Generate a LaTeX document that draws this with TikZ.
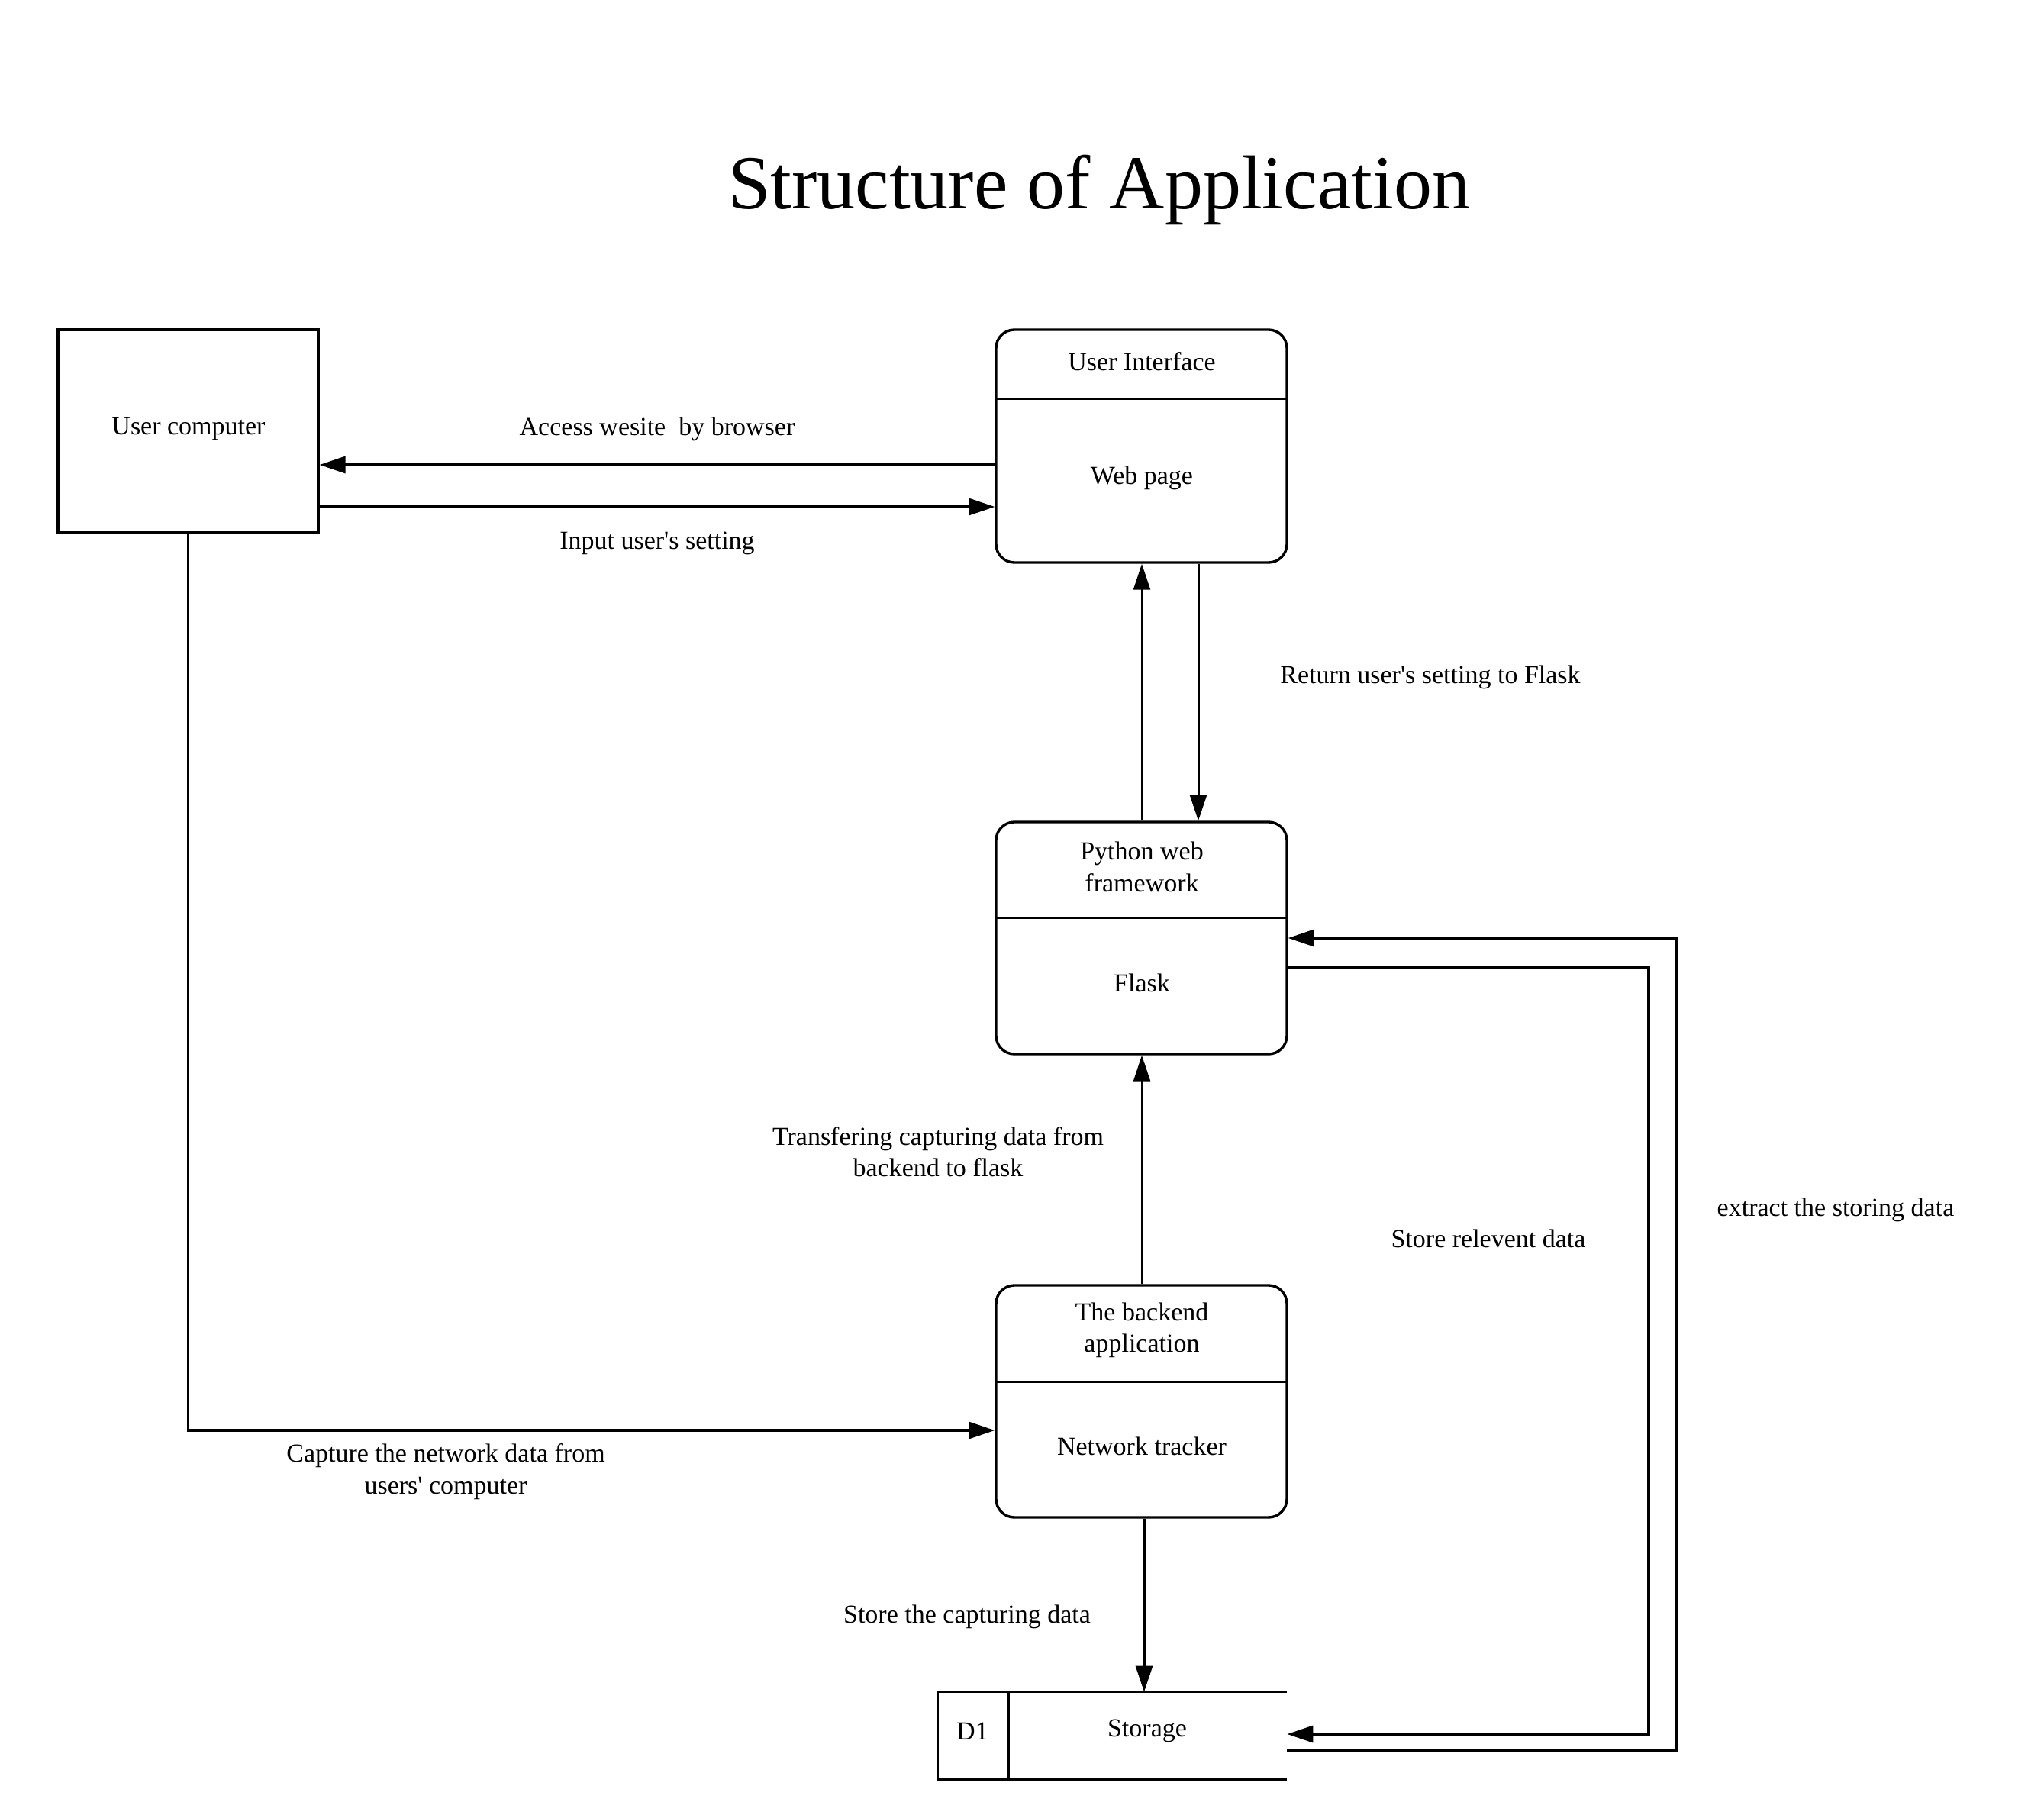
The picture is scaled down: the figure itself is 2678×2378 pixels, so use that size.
\documentclass[tikz,border=0pt]{standalone}
\usepackage{fontspec}
\setmainfont{Liberation Serif}
\usetikzlibrary{arrows.meta}
\newcommand{\aps}{\textquotesingle}
\begin{document}
\begin{tikzpicture}[x=0.5pt,y=-0.5pt,
  box/.style={draw,line width=1.7pt,inner sep=0pt,minimum width=190.5pt,minimum height=152pt,rounded corners=12pt},
  lbl/.style={font=\fontsize{17}{20.75}\selectfont,align=center,inner sep=0pt},
  arrh/.style={line width=1.7pt,-{Triangle[length=17pt,width=11pt]}},
  arrv/.style={line width=1.2pt,-{Triangle[length=17pt,width=11pt]}},
  divl/.style={line width=1.5pt},
]
\fill[white] (0,0) rectangle (2678,2378);
\useasboundingbox (0,0) rectangle (2678,2378);

% title
\node[font=\fontsize{50}{60}\selectfont,anchor=base,inner sep=0pt] (title) at (1440,273) {Structure of Application};

% boxes
\node[draw,line width=1.7pt,inner sep=0pt,minimum width=170.5pt,minimum height=133pt] (uc) at (246.5,565) {};
\node[box,minimum height=152.5pt] (ui) at (1495.5,584.5) {};
\node[box] (fl) at (1495.5,1229) {};
\node[box] (be) at (1495.5,1836) {};
\node[inner sep=0pt,minimum width=228.5pt,minimum height=57pt] (st) at (1457.5,2274) {};

% dividers
\draw[divl] (ui.west |- 0,522) -- (ui.east |- 0,522);
\draw[divl] (fl.west |- 0,1202) -- (fl.east |- 0,1202);
\draw[divl] (be.west |- 0,1810) -- (be.east |- 0,1810);

% storage shape
\draw[line width=1.7pt] (st.north east) -- (st.north west) -- (st.south west) -- (st.south east);
\draw[divl] (st.north -| 1321,0) -- (st.south -| 1321,0);

% box texts
\node[lbl] (tuc) at (247,562) {User computer};
\node[lbl] (tui1) at (1496,474) {User Interface};
\node[lbl] (tui2) at (1496,626) {Web page};
\node[lbl] (tfl1) at (1496,1136) {Python web\\framework};
\node[lbl] (tfl2) at (1496,1288) {Flask};
\node[lbl] (tbe1) at (1496,1743) {The backend\\application};
\node[lbl] (tbe2) at (1496,1895) {Network tracker};
\node[lbl] (td1) at (1274,2268) {D1};
\node[lbl] (tst) at (1503,2268) {Storage};

% connectors
\draw[arrh] (ui.west |- 0,609) -- (uc.east |- 0,609);
\draw[arrh] (uc.east |- 0,664) -- (ui.west |- 0,664);
\draw[arrv] (fl.north -| 1496,0) -- (ui.south -| 1496,0);
\draw[arrv,line width=1.5pt] (ui.south -| 1570,0) -- (fl.north -| 1570,0);
\draw[arrv] (be.north -| 1496,0) -- (fl.south -| 1496,0);
\draw[arrh] (uc.south) |- (be.west |- 0,1874);
\draw[arrv,line width=1.5pt] (be.south -| 1499,0) -- (st.north -| 1499,0);
\draw[arrh] (fl.east |- 0,1267) -| (2160,2272) -- (st.east |- 0,2272);
\draw[arrh] (st.east |- 0,2293) -| (2197,1229) -- (fl.east |- 0,1229);

% connector labels
\node[lbl] (l1) at (861,562) {Access wesite\ \ by browser};
\node[lbl] (l2) at (861,712) {Input user\aps s setting};
\node[lbl] (l3) at (1874,887) {Return user\aps s setting to Flask};
\node[lbl] (l4) at (1229,1509) {Transfering capturing data from\\backend to flask};
\node[lbl] (l5) at (584,1928) {Capture the network data from\\users\aps\ computer};
\node[lbl] (l6) at (1267,2118) {Store the capturing data};
\node[lbl] (l7) at (1950,1623) {Store relevent data};
\node[lbl] (l8) at (2405,1585) {extract the storing data};
\end{tikzpicture}
\end{document}
